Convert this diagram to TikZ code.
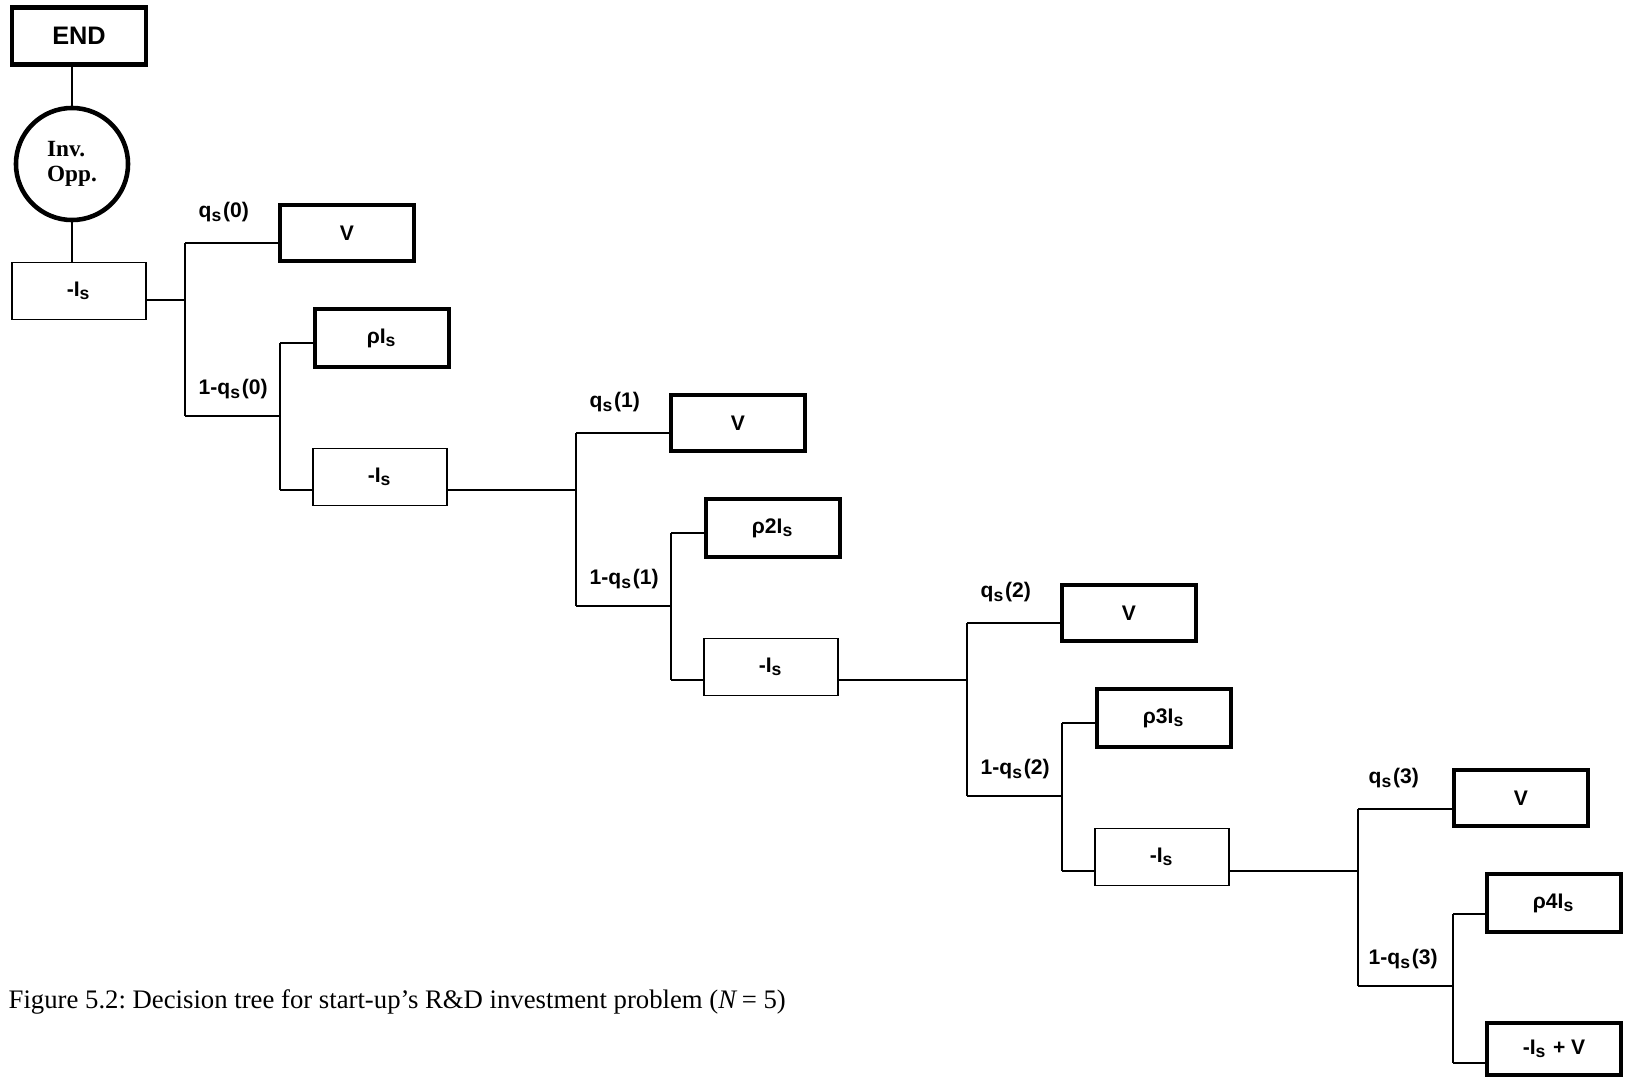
\documentclass[tikz,border=0pt]{standalone}
\usepackage{fontspec}
\setmainfont{Liberation Sans}
\newfontfamily\timesfont{Liberation Serif}
\frenchspacing

\begin{document}
\begin{tikzpicture}[
	x=0.01cm, y=-0.01cm,
	% Define the styles for the boxes, labels and lines
	every node/.style={font=\fontsize{6}{7}\selectfont\bfseries},
	payoff/.style={draw, line width=1.3pt, minimum width=1.34cm, minimum height=0.56cm, inner sep=0pt},
	cost/.style={draw, line width=0.35pt, minimum width=1.34cm, minimum height=0.57cm, inner sep=0pt},
	prob/.style={anchor=south west, inner sep=0pt},
	link/.style={line width=0.45pt}
	]
	\useasboundingbox (0,0) rectangle (1625,1079);
	
	% --- START ---
	\node (endbox) at (79,36) [payoff, minimum height=0.57cm, font=\fontsize{7.2}{8}\selectfont\bfseries] {END};
	\node (inv) at (72,164) [circle, draw, line width=1.3pt, minimum size=1.12cm, inner sep=0pt, align=left, font=\timesfont\fontsize{6.6}{7}\selectfont\bfseries] {Inv.\\Opp.};
	\node (i0) at (79,291) [cost] {-I\textsubscript{s}};
	
	\draw[link] (inv.north) -- (inv.north |- endbox.south);
	\draw[link] (inv.south) -- (inv.south |- i0.north);
	
	% --- STAGE 0 ---
	% Format: split (s), top (t), bottom (b), second split (p, u, w)
	\coordinate (s0) at (185,300);
	\coordinate (t0) at (185,243);
	\coordinate (b0) at (185,416);
	\coordinate (p0) at (280,416);
	\coordinate (u0) at (280,343);
	\coordinate (w0) at (280,490);
	\node (v0) at (347,233) [payoff] {V};
	\node (r0) at (382,338) [payoff, minimum height=0.58cm] {ρI\textsubscript{s}};
	\node (i1) at (380,477) [cost] {-I\textsubscript{s}};
	\node (q0) at (198,223) [prob] {q\textsubscript{s}(0)};
	\node (n0) at (198,400) [prob] {1-q\textsubscript{s}(0)};
	
	\draw[link] (i0.east |- s0) -- (s0);
	\draw[link] (t0) -- (b0);
	\draw[link] (t0) -- (t0 -| v0.west);
	\draw[link] (b0) -- (p0);
	\draw[link] (u0) -- (w0);
	\draw[link] (u0) -- (u0 -| r0.west);
	\draw[link] (w0) -- (w0 -| i1.west);
	
	% --- STAGE 1 ---
	\coordinate (s1) at (576,490);
	\coordinate (t1) at (576,433);
	\coordinate (b1) at (576,606);
	\coordinate (p1) at (671,606);
	\coordinate (u1) at (671,533);
	\coordinate (w1) at (671,680);
	\node (v1) at (738,423) [payoff] {V};
	\node (r1) at (773,528) [payoff, minimum height=0.58cm] {ρ2I\textsubscript{s}};
	\node (i2) at (771,667) [cost] {-I\textsubscript{s}};
	\node (q1) at (589,413) [prob] {q\textsubscript{s}(1)};
	\node (n1) at (589,590) [prob] {1-q\textsubscript{s}(1)};
	
	\draw[link] (i1.east |- s1) -- (s1);
	\draw[link] (t1) -- (b1);
	\draw[link] (t1) -- (t1 -| v1.west);
	\draw[link] (b1) -- (p1);
	\draw[link] (u1) -- (w1);
	\draw[link] (u1) -- (u1 -| r1.west);
	\draw[link] (w1) -- (w1 -| i2.west);
	
	% --- STAGE 2 ---
	\coordinate (s2) at (967,680);
	\coordinate (t2) at (967,623);
	\coordinate (b2) at (967,796);
	\coordinate (p2) at (1062,796);
	\coordinate (u2) at (1062,723);
	\coordinate (w2) at (1062,871);
	\node (v2) at (1129,613) [payoff] {V};
	\node (r2) at (1164,718) [payoff, minimum height=0.58cm] {ρ3I\textsubscript{s}};
	\node (i3) at (1162,857) [cost] {-I\textsubscript{s}};
	\node (q2) at (980,603) [prob] {q\textsubscript{s}(2)};
	\node (n2) at (980,780) [prob] {1-q\textsubscript{s}(2)};
	
	\draw[link] (i2.east |- s2) -- (s2);
	\draw[link] (t2) -- (b2);
	\draw[link] (t2) -- (t2 -| v2.west);
	\draw[link] (b2) -- (p2);
	\draw[link] (u2) -- (w2);
	\draw[link] (u2) -- (u2 -| r2.west);
	\draw[link] (w2) -- (w2 -| i3.west);
	
	% --- STAGE 3 ---
	\coordinate (s3) at (1358,871);
	\coordinate (t3) at (1358,809);
	\coordinate (b3) at (1358,986);
	\coordinate (p3) at (1453,986);
	\coordinate (u3) at (1453,914);
	\coordinate (w3) at (1453,1063);
	\node (v3) at (1521,798) [payoff] {V};
	\node (r3) at (1554,903) [payoff, minimum height=0.58cm] {ρ4I\textsubscript{s}};
	\node (last) at (1554,1049) [payoff, minimum height=0.52cm] {-I\textsubscript{s} + V};
	\node (q3) at (1368,789) [prob] {q\textsubscript{s}(3)};
	\node (n3) at (1368,970) [prob] {1-q\textsubscript{s}(3)};
	
	\draw[link] (i3.east |- s3) -- (s3);
	\draw[link] (t3) -- (b3);
	\draw[link] (t3) -- (t3 -| v3.west);
	\draw[link] (b3) -- (p3);
	\draw[link] (u3) -- (w3);
	\draw[link] (u3) -- (u3 -| r3.west);
	\draw[link] (w3) -- (w3 -| last.west);
	
	% --- CAPTION ---
	\node (caption) at (8,1002) [anchor=west, inner sep=0pt, font=\timesfont\fontsize{7.6}{8.5}\selectfont] {Figure 5.2: Decision tree for start-up’s R\&D investment problem (\textit{N}\,= 5)};
	
\end{tikzpicture}
\end{document}
